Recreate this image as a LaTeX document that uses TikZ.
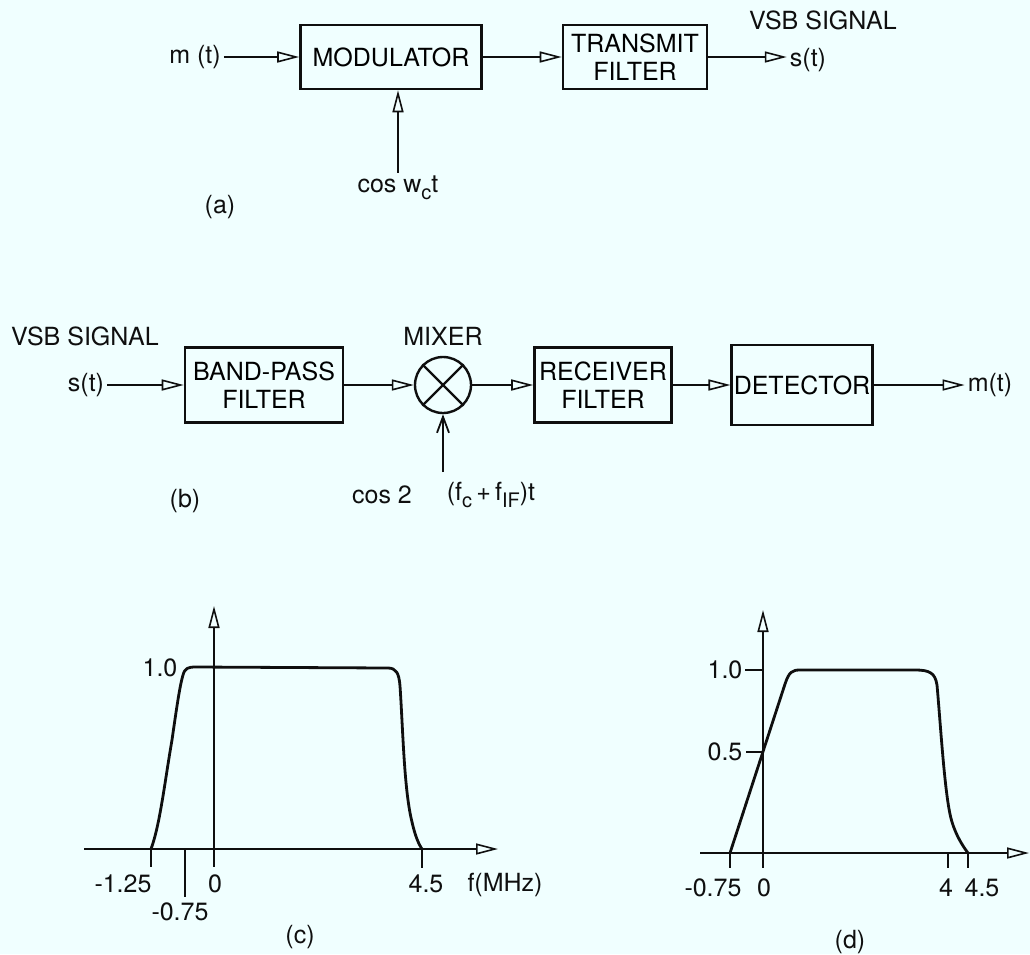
\documentclass[tikz,border=0pt]{standalone}
\usepackage{fontspec}
\setmainfont{TeX Gyre Heros}
\usetikzlibrary{arrows.meta, positioning, calc}
\definecolor{vsbpaper}{RGB}{240,255,255}
\definecolor{vsbink}{RGB}{15,15,15}
% lowered, fairly large subscript as in the scan
\newcommand{\vsbsub}[1]{\raisebox{-7pt}{\fontsize{20}{20}\selectfont #1}}

\begin{document}
\begin{tikzpicture}[
    x=1pt, y=-1pt,
    font=\fontsize{25}{28}\selectfont,
    >={Triangle[open, length=22pt, width=11pt, line width=1.6pt]},
    % Block diagram styles
    blockbox/.style={draw=vsbink, line width=2.6pt, fill=vsbpaper, align=center, inner sep=2pt},
    mixer/.style={draw=vsbink, line width=2.4pt, circle, minimum size=56pt, inner sep=0pt},
    sig/.style={text=vsbink, inner sep=3pt},
    arrow/.style={->, line width=2.2pt, draw=vsbink},
    barb/.style={-{Straight Barb[length=16pt, width=12pt, line width=1.8pt]}, line width=2.2pt, draw=vsbink},
    % Spectrum plot styles
    axisline/.style={->, line width=2.2pt, draw=vsbink},
    tickline/.style={line width=2.4pt, draw=vsbink},
    curve/.style={line width=2.8pt, draw=vsbink, line join=round}
]

% paper
\fill[vsbpaper] (0,0) rectangle (1030,954);
\useasboundingbox (0,0) rectangle (1030,954);

% ----------------------------------------------------
% (a) TRANSMITTER
% ----------------------------------------------------
\node[sig] (msg) at (195,57) {m (t)};
\node[blockbox, minimum width=181pt, minimum height=64pt] (mod) at (391,57) {MODULATOR};
\node[blockbox, minimum width=144pt, minimum height=64pt] (txf) at (635,57) {TRANSMIT\\FILTER};
\node[sig] (sout) at (808,60) {s(t)};
\node[sig] at (823,20) {VSB SIGNAL};
\node[sig] (carrier) at (398,188) {cos w\vsbsub{c}t};
\node[sig] at (220,207) {(a)};

\draw[arrow] (msg) -- (mod);
\draw[arrow] (mod) -- (txf);
\draw[arrow] (txf.east) -- (sout.west |- txf.east);
\draw[arrow] (carrier.north) -- (carrier.north |- mod.south);

% ----------------------------------------------------
% (b) RECEIVER
% ----------------------------------------------------
\node[sig] at (85,336) {VSB SIGNAL};
\node[sig] (sin) at (86,385) {s(t)};
\node[blockbox, minimum width=158pt, minimum height=75pt] (bpf) at (264,385) {BAND-PASS\\FILTER};
\node[mixer] (mix) at (443,385) {};
\draw[line width=2.4pt, draw=vsbink] (mix.north east) -- (mix.south west);
\draw[line width=2.4pt, draw=vsbink] (mix.north west) -- (mix.south east);
\node[sig] at (443,336) {MIXER};
\node[blockbox, minimum width=137pt, minimum height=75pt] (rxf) at (603,385) {RECEIVER\\FILTER};
\node[blockbox, minimum width=140pt, minimum height=80pt] (det) at (802,385) {DETECTOR};
\node[sig] (mout) at (990,385) {m(t)};
\coordinate (lo) at (443,472);
\node[sig] at (382,495) {cos 2};
\node[sig] at (491,495) {(f\vsbsub{c}\,+\,f\vsbsub{IF})t};
\node[sig] at (185,501) {(b)};

\draw[arrow] (sin) -- (bpf);
\draw[arrow] (bpf) -- (mix);
\draw[arrow] (mix) -- (rxf);
\draw[arrow] (rxf) -- (det);
\draw[arrow] (det) -- (mout);
\draw[barb] (lo) -- (mix.south);

% ----------------------------------------------------
% (c) BAND-PASS RESPONSE
% ----------------------------------------------------
\draw[axisline] (84,849) -- (498,849);
\draw[axisline] (214,849) -- (214,606);
\draw[curve] (151,849) .. controls (160,825) and (165,780) .. (172,740)
    .. controls (177,705) and (180,685) .. (183,675)
    .. controls (185,668) and (188,667) .. (196,667) -- (388,668)
    .. controls (396,668) and (399,673) .. (400,686)
    .. controls (403,730) and (404,790) .. (412,822)
    .. controls (415,835) and (418,843) .. (422,849);
\draw[tickline] (151,849) -- (151,867);
\draw[tickline] (185,849) -- (185,897);
\draw[tickline] (214,849) -- (214,867);
\draw[tickline] (422,849) -- (422,868);
\node[sig] at (160,668) {1.0};
\node[sig] at (123,884) {-1.25};
\node[sig] at (180,912) {-0.75};
\node[sig] at (215,884) {0};
\node[sig] at (426,884) {4.5};
\node[sig] at (505,885) {f(MHz)};
\node[sig] at (300,937) {(c)};

% ----------------------------------------------------
% (d) RECEIVER FILTER RESPONSE
% ----------------------------------------------------
\draw[axisline] (700,853) -- (1029,853);
\draw[axisline] (763,853) -- (763,610);
\draw[curve] (730,853) -- (785,684)
    .. controls (789,672) and (792,670) .. (800,670) -- (915,670)
    .. controls (930,670) and (935,673) .. (937,685)
    .. controls (941,730) and (945,800) .. (952,822)
    .. controls (956,835) and (962,845) .. (968,853);
\draw[tickline] (745,670) -- (763,670);
\draw[tickline] (746,752) -- (763,752);
\draw[tickline] (730,853) -- (730,868);
\draw[tickline] (763,853) -- (763,868);
\draw[tickline] (948,853) -- (948,868);
\draw[tickline] (968,853) -- (968,868);
\node[sig] at (725,670) {1.0};
\node[sig] at (725,752) {0.5};
\node[sig] at (713,888) {-0.75};
\node[sig] at (764,888) {0};
\node[sig] at (946,888) {4};
\node[sig] at (982,888) {4.5};
\node[sig] at (850,942) {(d)};

\end{tikzpicture}
\end{document}
